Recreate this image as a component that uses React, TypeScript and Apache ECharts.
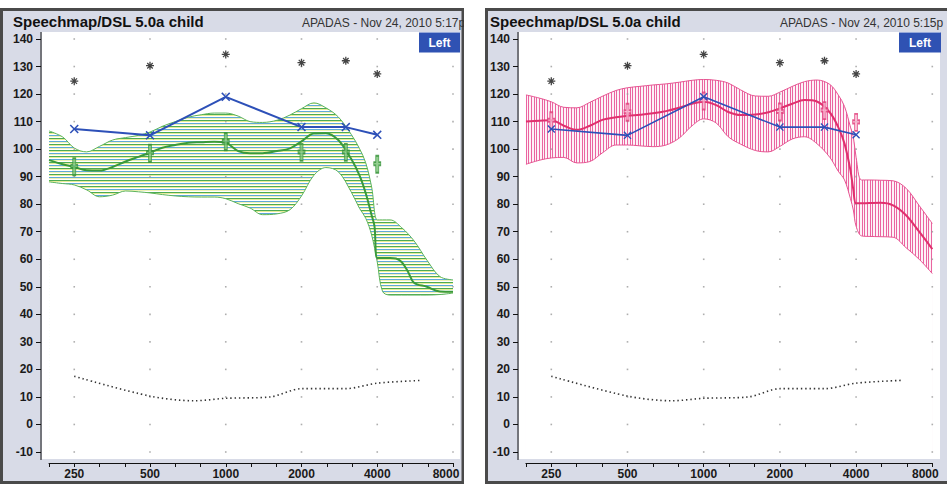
import React, { useEffect, useRef } from 'react';
import * as echarts from 'echarts';

// ---------- data ----------
const FREQ_TICKS = [250, 500, 1000, 2000, 4000, 8000];
const DB_TICKS = [-10, 0, 10, 20, 30, 40, 50, 60, 70, 80, 90, 100, 110, 120, 130, 140];

const TEST_FREQS = [250, 500, 1000, 2000, 3000, 4000];
const TARGET_DB = [107.3, 105, 119, 108, 108, 105.2];
const UCL_DB = [124.7, 130.3, 134.4, 131.4, 132.1, 127.3];
const GREEN_MARK_DB = [93.6, 98.5, 102.7, 98.8, 98.8, 94.5];
const PINK_MARK_DB = [110.3, 113.4, 117.5, 113.5, 114, 109.7];

const THRESH_FREQS = [250, 500, 750, 1000, 1500, 2000, 3000, 4000, 6000];
const THRESH_DB = [17.5, 10.3, 8.6, 9.5, 10, 13, 13, 15, 16];

const GREEN_BAND_FREQS = [198.5, 225, 250, 280, 315, 355, 400, 450, 500, 560, 630, 710, 800, 900, 1000, 1120, 1250, 1400, 1600, 1800, 2000, 2240, 2500, 2800, 3150, 3400, 3600, 3800, 4000, 4200, 4500, 5000, 5600, 6300, 7100, 8000];
const GREEN_UPPER = [106.6, 104.4, 100.4, 99, 101, 103.3, 104.2, 105, 106.2, 108.3, 110, 111.6, 112.5, 113.1, 113.1, 112, 110, 109.7, 110.5, 112.4, 114.7, 116.8, 115, 111.7, 105.4, 100.2, 95, 86.2, 74.3, 74.3, 74.3, 71.5, 66.7, 59.7, 53.7, 52.5];
const GREEN_LOWER = [88.1, 87.5, 87, 85.2, 82.7, 83.3, 84.8, 84.5, 84.1, 83.5, 83, 82.7, 82.6, 82.6, 82, 80.2, 78.6, 76.2, 76.5, 78, 83, 90.5, 93.3, 91.8, 84.5, 78.5, 74.9, 68.8, 59, 48.3, 47, 47, 47, 47, 47.2, 47.7];

const GREEN_MEAN_FREQS = [198.5, 225, 250, 280, 315, 355, 400, 450, 500, 560, 630, 710, 800, 900, 1000, 1120, 1250, 1400, 1600, 1800, 2000, 2240, 2500, 2800, 3150, 3400, 3600, 3800, 3900, 4000, 4200, 4500, 4750, 5000, 5300, 5600, 6300, 7100, 8000];
const GREEN_MEAN = [96, 94.5, 93.5, 92.3, 92.2, 93.5, 95.5, 97.2, 98.7, 100.5, 101.5, 102.3, 102.5, 102.7, 102.3, 99.3, 98.5, 98.5, 99.3, 100.3, 102.8, 105.7, 105.8, 103.3, 96.5, 90.5, 84, 76, 72, 60.5, 60.5, 60.5, 60.3, 59, 55.5, 51.5, 50, 48.3, 48.2];

const PINK_FREQS = [198.5, 225, 250, 280, 315, 355, 400, 450, 500, 560, 630, 710, 800, 900, 1000, 1120, 1250, 1400, 1600, 1800, 2000, 2240, 2500, 2800, 3150, 3400, 3600, 3800, 3900, 4000, 4200, 4500, 5000, 5600, 6300, 7100, 8000];
const PINK_UPPER = [119.7, 118.5, 117.2, 115.2, 115, 117, 119.3, 121.3, 122.3, 122.8, 123.3, 123.7, 124.3, 125, 125.3, 125, 124, 121.5, 119.3, 119.2, 120.7, 122.8, 124.5, 125.1, 123.5, 119.7, 115.5, 108, 104.5, 97, 88.8, 88.8, 88.7, 88.5, 85.8, 79.5, 73];
const PINK_LOWER = [94.5, 96, 96.8, 97, 95, 95.5, 98.8, 101.5, 101.5, 101.2, 100.9, 101.5, 104, 108.5, 111, 109.5, 104.5, 101.8, 99.5, 99, 101, 103.7, 104.5, 102, 97, 92, 88.8, 82, 77.9, 72, 68.5, 68.3, 68.2, 68, 64.2, 60, 54.8];
const PINK_MEAN = [110, 110.3, 110.5, 108.5, 107, 108.5, 110.7, 111.6, 112.1, 112.5, 113, 113.8, 115, 116.5, 117.2, 116, 113.5, 112.4, 112.6, 113.4, 114.8, 116.5, 117.8, 117.3, 113.3, 108, 102, 92.3, 85.3, 80.3, 80.3, 80.4, 80.5, 79.6, 76, 70, 63.7];

const TITLE = 'Speechmap/DSL 5.0a child';
const STAMPS = ['APADAS - Nov 24, 2010 5:17p', 'APADAS - Nov 24, 2010 5:15p'];
const EAR = 'Left';

// ---------- helpers ----------
const toT = (f: number) => 3 * Math.log2(f / 250);
const pairs = (fs: number[], vs: number[]) => fs.map((f, i) => [toT(f), vs[i]]);

const FONT = '"Liberation Sans", Arial, sans-serif';
const SYM_PLUS = 'path://M2,0H5V6H7V9H5V16H2V9H0V6H2Z';
const SYM_X = 'path://M0,1.2L1.2,0L5,3.8L8.8,0L10,1.2L6.2,5L10,8.8L8.8,10L5,6.2L1.2,10L0,8.8L3.8,5Z';
const SYM_AST = 'path://M4.2,0H5.8V10H4.2ZM0,4.2H10V5.8H0ZM1,2.1L2.1,1L9,7.9L7.9,9ZM7.9,1L9,2.1L2.1,9L1,7.9Z';

function makeTile(w: number, h: number, paint: (ctx: CanvasRenderingContext2D) => void) {
  const c = document.createElement('canvas');
  c.width = w;
  c.height = h;
  const ctx = c.getContext('2d')!;
  paint(ctx);
  return { image: c.toDataURL(), repeat: 'repeat', imageWidth: w, imageHeight: h } as any;
}

const PANELS = [
  { left: 49, width: 404, axisX: 41, frameX: 1.5, frameW: 461.5, plotX: 42, plotW: 418, titleX: 13, stampX: 302, earX: 419, earW: 41 },
  { left: 525.9, width: 406.4, axisX: 518, frameX: 486.5, frameW: 470, plotX: 519, plotW: 421, titleX: 490, stampX: 780, earX: 899, earW: 42 },
];

const LABEL_FONT = { fontFamily: FONT, fontWeight: 'bold' as const, fontSize: 12, color: '#1a1a1a' };

export default function App() {
  const ref = useRef<HTMLDivElement>(null);

  useEffect(() => {
    if (!ref.current) return;
    const chart = echarts.init(ref.current, null, { renderer: 'svg' });

    const greenTile = makeTile(4, 6, (ctx) => {
      const rows = ['#4dab55', '#e8ed98', '#ffffff', '#5fa9d8', '#eef2b4', '#ffffff'];
      rows.forEach((c, i) => { ctx.fillStyle = c; ctx.fillRect(0, i, 4, 1); });
    });
    const pinkTile = makeTile(8, 2, (ctx) => {
      ctx.fillStyle = '#fdf2f7';
      ctx.fillRect(0, 0, 8, 2);
      ctx.fillStyle = '#ea64a0';
      [0, 3, 6].forEach((x) => ctx.fillRect(x, 0, 1, 2));
    });

    const gridDots: number[][] = [];
    FREQ_TICKS.forEach((f) => DB_TICKS.forEach((d) => gridDots.push([toT(f), d])));

    const series: any[] = [];
    const xAxis: any[] = [];
    const yAxis: any[] = [];
    const grid: any[] = [];
    const graphic: any[] = [];
    const lastK = (FREQ_TICKS.length - 1) * 3;

    PANELS.forEach((p, gi) => {
      grid.push({ left: p.left, width: p.width, top: 39, height: 413 });
      xAxis.push({
        type: 'value', gridIndex: gi, min: -1, max: 15, interval: 1, offset: 11, position: 'bottom',
        axisLine: { show: true, onZero: false, lineStyle: { color: '#111', width: 1 } },
        axisTick: { show: true, length: 4, lineStyle: { color: '#111' } },
        splitLine: { show: false },
        axisLabel: {
          margin: 5, ...LABEL_FONT,
          rich: { last: { ...LABEL_FONT, padding: [0, 14, 0, 0] } },
          formatter: (v: number) => {
            const k = Math.round(v);
            if (k < 0 || k % 3 !== 0 || !FREQ_TICKS[k / 3]) return '';
            const s = String(FREQ_TICKS[k / 3]);
            return k === lastK ? `{last|${s}}` : s;
          },
        },
      });
      yAxis.push({
        type: 'value', gridIndex: gi, min: -10, max: 140, interval: 10, offset: p.left - p.axisX, position: 'left',
        axisLine: { show: false, onZero: false },
        axisTick: { show: true, length: 5, lineStyle: { color: '#111' } },
        splitLine: { show: false },
        axisLabel: { margin: 8, ...LABEL_FONT },
      });

      graphic.push(
        { type: 'rect', z: 0, shape: { x: p.frameX, y: 9.5, width: p.frameW, height: 473 }, style: { fill: '#d8dbe7', stroke: '#4a4a4a', lineWidth: 3 } },
        { type: 'rect', z: 0, shape: { x: p.plotX, y: 32, width: p.plotW, height: 427 }, style: { fill: '#ffffff' } },
        { type: 'line', z: 1, shape: { x1: p.axisX, y1: 32, x2: p.axisX, y2: 460 }, style: { stroke: '#111', lineWidth: 1 } },
        { type: 'text', z: 10, x: p.titleX, y: 21, style: { text: TITLE, font: `bold 15px ${FONT}`, fill: '#111', align: 'left', verticalAlign: 'middle' } },
        { type: 'text', z: 10, x: p.stampX, y: 23, style: { text: STAMPS[gi], font: `12px ${FONT}`, fill: '#333', align: 'left', verticalAlign: 'middle' } },
        { type: 'rect', z: 10, shape: { x: p.earX, y: 32.5, width: p.earW, height: 20 }, style: { fill: '#2f52b3' } },
        { type: 'text', z: 10, x: p.earX + p.earW / 2, y: 43, style: { text: EAR, font: `bold 12px ${FONT}`, fill: '#ffffff', align: 'center', verticalAlign: 'middle' } },
      );

      const isGreen = gi === 0;
      const bandF = isGreen ? GREEN_BAND_FREQS : PINK_FREQS;
      const up = isGreen ? GREEN_UPPER : PINK_UPPER;
      const lo = isGreen ? GREEN_LOWER : PINK_LOWER;
      const meanF = isGreen ? GREEN_MEAN_FREQS : PINK_FREQS;
      const mean = isGreen ? GREEN_MEAN : PINK_MEAN;
      const marks = isGreen ? GREEN_MARK_DB : PINK_MARK_DB;
      const edge = isGreen ? '#5cb35a' : '#e65592';
      const meanColor = isGreen ? '#3a9a3a' : '#e0306e';
      const base = { xAxisIndex: gi, yAxisIndex: gi, silent: true };

      series.push(
        {
          ...base, type: 'line', z: 2, smooth: 0.35, symbol: 'none',
          lineStyle: { color: edge, width: 1 },
          areaStyle: { color: isGreen ? greenTile : pinkTile, opacity: 1, origin: 'start' },
          data: pairs(bandF, up),
        },
        {
          ...base, type: 'line', z: 2.5, smooth: 0.35, symbol: 'none',
          lineStyle: { color: edge, width: 1 },
          areaStyle: { color: '#ffffff', opacity: 1, origin: 'start' },
          data: pairs(bandF, lo),
        },
        { ...base, type: 'scatter', z: 3, symbol: 'rect', symbolSize: 1.6, itemStyle: { color: '#9a9a9a' }, data: gridDots },
        {
          ...base, type: 'line', z: 4, smooth: 0.35, symbol: 'none',
          lineStyle: { color: meanColor, width: 2 }, data: pairs(meanF, mean),
        },
        {
          ...base, type: 'scatter', z: 5, symbol: SYM_PLUS, symbolSize: [7, 17],
          itemStyle: isGreen
            ? { color: '#78c274', borderColor: '#2f8f33', borderWidth: 1.2 }
            : { color: '#f7b0cc', borderColor: '#e03a78', borderWidth: 1.2 },
          data: pairs(TEST_FREQS, marks),
        },
        {
          ...base, type: 'line', z: 4, smooth: 0.3, symbol: 'none',
          lineStyle: { color: '#333', width: 1.6, type: [1.4, 2.9] }, data: pairs(THRESH_FREQS, THRESH_DB),
        },
        {
          ...base, type: 'line', z: 6, symbol: SYM_X, symbolSize: isGreen ? 9 : 8, showSymbol: true,
          itemStyle: { color: '#2d50b8' },
          lineStyle: { color: '#2d50b8', width: isGreen ? 2 : 1.6 }, data: pairs(TEST_FREQS, TARGET_DB),
        },
        {
          ...base, type: 'scatter', z: 6, symbol: SYM_AST, symbolSize: 8,
          itemStyle: { color: '#151515' }, data: pairs(TEST_FREQS, UCL_DB),
        },
      );
    });

    graphic.push({ type: 'rect', z: 20, shape: { x: 464, y: 0, width: 21, height: 484 }, style: { fill: '#ffffff' } });

    chart.setOption({
      animation: false,
      backgroundColor: '#ffffff',
      grid,
      xAxis,
      yAxis,
      series,
      graphic: { elements: graphic },
    });

    return () => chart.dispose();
  }, []);

  return <div ref={ref} style={{ position: 'fixed', left: 0, top: 0, width: 947, height: 484 }} />;
}
